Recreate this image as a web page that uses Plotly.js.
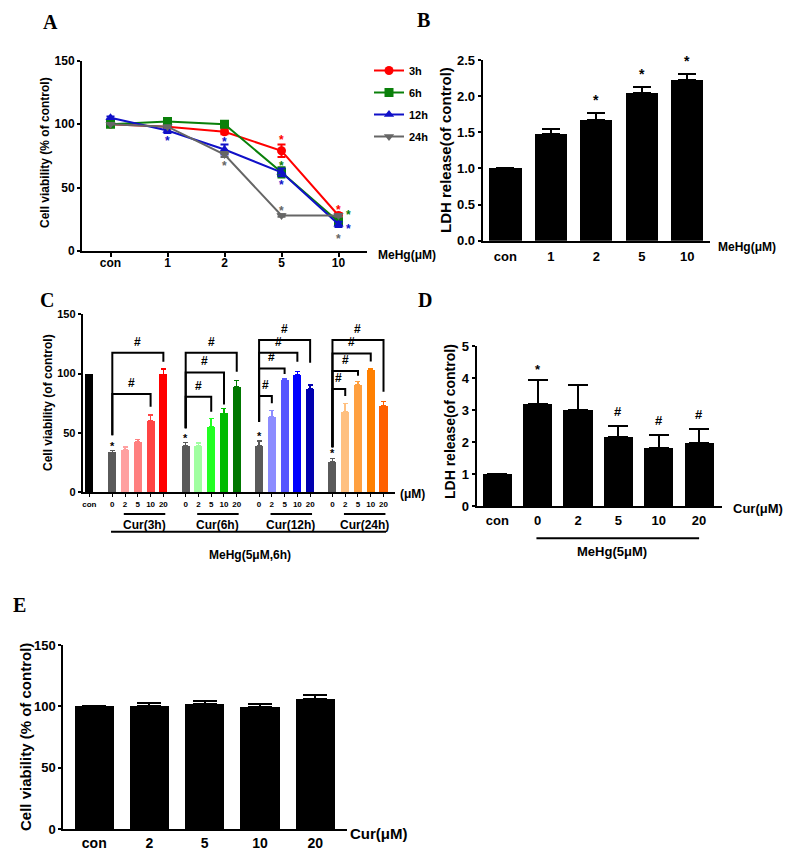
<!DOCTYPE html>
<html><head><meta charset="utf-8">
<script src="https://cdn.plot.ly/plotly-3.0.1.min.js"></script>
<style>html,body{margin:0;padding:0;background:#fff}#chart{width:800px;height:854px}</style>
</head><body><div id="chart"></div>
<script>
// ---------- Panel A: cell viability vs MeHg, 4 time points ----------
const doseA = ['con', '1', '2', '5', '10'];
const seriesA = ['3h', '6h', '12h', '24h'];
const via3h = [100, 98, 94, 79, 28];
const via6h = [100, 102, 100, 62, 23];
const via12h = [105, 95, 80, 62, 21];
const via24h = [100, 98, 76, 28, 28];
const err3h = [0, 1, 2, 5, 2];
const err6h = [0, 1, 1, 4, 2];
const err12h = [1, 2, 4, 3, 2];
const err24h = [0, 1, 2, 1, 1];
const colorsA = ['#ff0000', '#0a800a', '#1010c8', '#666666'];
const symbolsA = ['circle', 'square', 'triangle-up', 'triangle-down'];
// significance stars in A (series index, dose position, value)
const starA_series = [0, 0, 1, 1, 2, 2, 2, 2, 3, 3, 3];
const starA_x = [3, 4, 3, 4.17, 1, 2, 3, 4.18, 2, 3, 4];
const starA_y = [90, 35, 69, 31, 89, 88, 54, 20, 69, 34, 12];

// ---------- Panel B: LDH release vs MeHg ----------
const doseB = ['con', '1', '2', '5', '10'];
const ldhB = [1.0, 1.47, 1.67, 2.04, 2.22];
const ldhBErr = [0, 0.07, 0.09, 0.09, 0.08];
const starB = [false, false, true, true, true];

// ---------- Panel C: viability, MeHg 5uM 6h + Cur ----------
const curDoses = ['0', '2', '5', '10', '20'];
const curGroups = ['Cur(3h)', 'Cur(6h)', 'Cur(12h)', 'Cur(24h)'];
const conC = 100;
const valC3h = [33.7, 35.6, 42.4, 60.3, 99.4];
const valC6h = [39, 39, 55.3, 66.5, 89];
const valC12h = [39, 63.5, 94.6, 98.8, 87];
const valC24h = [25.8, 67.9, 90.4, 103, 72.7];
const errC3h = [1.5, 2.5, 2.1, 4.7, 4.3];
const errC6h = [2.8, 2.5, 6.7, 4.3, 5];
const errC12h = [4.4, 5.6, 1.4, 2.8, 3.4];
const errC24h = [2.8, 7, 2.8, 1.4, 3.7];
const colC3h = ['#5a5a5a', '#ffa0a0', '#ff7f7f', '#ff4444', '#ff0000'];
const colC6h = ['#5a5a5a', '#a0ffa0', '#22ff22', '#00bb00', '#007700'];
const colC12h = ['#5a5a5a', '#8c8cff', '#5555ff', '#0000ff', '#0000b0'];
const colC24h = ['#5a5a5a', '#ffc080', '#ffa040', '#ff8000', '#ff6000'];
// brackets: per group, left leg bottom; each bracket [target dose index, top value, right leg bottom]
const bracketLeftC = [48, 54, 59.5, 38];
const bracketsC3h = [[4, 117.6, 110], [3, 82.8, 72]];
const bracketsC6h = [[4, 117.6, 101.6], [3, 101, 74], [2, 80.6, 67.9]];
const bracketsC12h = [[4, 128.3, 109.2], [3, 117.6, 110], [2, 104.4, 99.7], [1, 81.1, 75]];
const bracketsC24h = [[4, 128.3, 84.8], [3, 117, 110.2], [2, 102.2, 98.2], [1, 87, 81.1]];

// ---------- Panel D: LDH release, MeHg 5uM + Cur ----------
const doseD = ['con', '0', '2', '5', '10', '20'];
const ldhD = [1.0, 3.18, 3.01, 2.16, 1.82, 1.96];
const ldhDErr = [0, 0.75, 0.77, 0.33, 0.39, 0.44];
const markD = ['', '*', '', '#', '#', '#'];

// ---------- Panel E: viability, Cur alone ----------
const doseE = ['con', '2', '5', '10', '20'];
const viaE = [100, 100.6, 101.5, 99.5, 106];
const viaEErr = [0, 2.5, 2.7, 2.8, 3.6];

// ================= drawing =================
const W = 800, H = 854;
const px = x => x / W;
const py = y => 1 - y / H;
const FONT = 'Liberation Sans, Arial, sans-serif';
const bold = (size, color) => ({family: FONT, size: size, color: color || '#000', weight: 'bold'});

const traces = [];
const annotations = [];
const shapes = [];

// Panel A
const viaA = [via3h, via6h, via12h, via24h];
const errA = [err3h, err6h, err12h, err24h];
seriesA.forEach((s, k) => {
  traces.push({
    type: 'scatter', mode: 'lines+markers', name: s, legendgroup: s,
    x: doseA, y: viaA[k], xaxis: 'x', yaxis: 'y',
    line: {color: colorsA[k], width: 2},
    marker: {color: colorsA[k], size: 9, symbol: symbolsA[k]},
    error_y: {type: 'data', array: errA[k], color: colorsA[k], thickness: 2, width: 4}
  });
});
starA_x.forEach((x, i) => {
  annotations.push({xref: 'x', yref: 'y', x: x, y: starA_y[i], text: '*', showarrow: false,
    yanchor: 'middle', yshift: -3, font: bold(12, colorsA[starA_series[i]])});
});

// Panel B
traces.push({
  type: 'bar', x: doseB, y: ldhB, xaxis: 'x2', yaxis: 'y2', width: 0.71, showlegend: false,
  marker: {color: '#000', line: {color: '#000', width: 0}},
  error_y: {type: 'data', symmetric: false, array: ldhBErr, arrayminus: ldhBErr.map(() => 0), color: '#000', thickness: 2, width: 9}
});
doseB.forEach((d, i) => {
  if (starB[i]) annotations.push({xref: 'x2', yref: 'y2', x: i, y: ldhB[i] + ldhBErr[i], text: '*', showarrow: false,
    yanchor: 'bottom', yshift: 3, font: bold(14)});
});

// Panel C
const posC = (g, i) => 1.8 + g * 5.75 + i;
const valC = [valC3h, valC6h, valC12h, valC24h];
const errC = [errC3h, errC6h, errC12h, errC24h];
const colC = [colC3h, colC6h, colC12h, colC24h];
const brC = [bracketsC3h, bracketsC6h, bracketsC12h, bracketsC24h];
const tickvalsC = [0], ticktextC = ['con'];
traces.push({type: 'bar', x: [0], y: [conC], xaxis: 'x3', yaxis: 'y3', width: 0.63, showlegend: false,
  marker: {color: '#000'}});
curGroups.forEach((grp, g) => {
  curDoses.forEach((d, i) => {
    tickvalsC.push(posC(g, i)); ticktextC.push(d);
    traces.push({type: 'bar', x: [posC(g, i)], y: [valC[g][i]], xaxis: 'x3', yaxis: 'y3', width: 0.63, showlegend: false,
      marker: {color: colC[g][i]},
      error_y: {type: 'data', symmetric: false, array: [errC[g][i]], arrayminus: [0], color: colC[g][i], thickness: 1.5, width: 2.5}});
  });
  // star above MeHg-only bar
  annotations.push({xref: 'x3', yref: 'y3', x: posC(g, 0), y: valC[g][0] + errC[g][0], text: '*', showarrow: false,
    yanchor: 'bottom', yshift: -3, font: bold(11)});
  // brackets
  brC[g].forEach(b => {
    const x0 = posC(g, 0), x1 = posC(g, b[0]);
    shapes.push({type: 'path', xref: 'x3', yref: 'y3',
      path: `M ${x0},${bracketLeftC[g]} L ${x0},${b[1]} L ${x1},${b[1]} L ${x1},${b[2]}`,
      line: {color: '#000', width: 2}});
    annotations.push({xref: 'x3', yref: 'y3', x: (x0 + x1) / 2, y: b[1], text: '#', showarrow: false,
      yanchor: 'bottom', yshift: 2, font: bold(12)});
  });
  // Cur group underline + label
  shapes.push({type: 'line', xref: 'x3', yref: 'paper', x0: posC(g, 1) - 0.1, x1: posC(g, 4) + 0.15,
    y0: py(514), y1: py(514), line: {color: '#000', width: 2}});
  annotations.push({xref: 'x3', yref: 'paper', x: posC(g, 2.5), y: py(525), text: grp, showarrow: false,
    yanchor: 'middle', font: bold(12)});
});
shapes.push({type: 'line', xref: 'x3', yref: 'paper', x0: posC(0, 0) - 0.1, x1: posC(3, 4) + 0.2,
  y0: py(531.7), y1: py(531.7), line: {color: '#000', width: 2}});
annotations.push({xref: 'x3', yref: 'paper', x: (posC(0, 0) + posC(3, 4)) / 2 + 0.2, y: py(555), text: 'MeHg(5μM,6h)',
  showarrow: false, yanchor: 'middle', font: bold(12)});
annotations.push({xref: 'paper', yref: 'paper', x: px(398), y: py(494), text: '(μM)', showarrow: false,
  xanchor: 'left', yanchor: 'middle', font: bold(12)});

// Panel D
traces.push({
  type: 'bar', x: doseD, y: ldhD, xaxis: 'x4', yaxis: 'y4', width: 0.72, showlegend: false,
  marker: {color: '#000'},
  error_y: {type: 'data', symmetric: false, array: ldhDErr, arrayminus: ldhDErr.map(() => 0), color: '#000', thickness: 2, width: 10}
});
markD.forEach((m, i) => {
  if (m) annotations.push({xref: 'x4', yref: 'y4', x: i, y: ldhD[i] + ldhDErr[i], text: m, showarrow: false,
    yanchor: 'bottom', yshift: m === '#' ? 5 : 1, font: bold(13)});
});
shapes.push({type: 'line', xref: 'x4', yref: 'paper', x0: 0.97, x1: 5.0, y0: py(538.3), y1: py(538.3),
  line: {color: '#000', width: 2}});
annotations.push({xref: 'x4', yref: 'paper', x: 2.85, y: py(551.7), text: 'MeHg(5μM)', showarrow: false,
  yanchor: 'middle', font: bold(13)});

// Panel E
traces.push({
  type: 'bar', x: doseE, y: viaE, xaxis: 'x5', yaxis: 'y5', width: 0.71, showlegend: false,
  marker: {color: '#000'},
  error_y: {type: 'data', symmetric: false, array: viaEErr, arrayminus: viaEErr.map(() => 0), color: '#000', thickness: 2, width: 12}
});

// axis labels / panel letters
const txt = (x, y, t, f, extra) => annotations.push(Object.assign({xref: 'paper', yref: 'paper', x: px(x), y: py(y),
  text: t, showarrow: false, xanchor: 'center', yanchor: 'middle', font: f}, extra || {}));
const letterFont = {family: 'Liberation Serif, Times New Roman, serif', size: 20, color: '#000', weight: 'bold'};
txt(50, 22, 'A', letterFont);
txt(423, 20, 'B', letterFont);
txt(47, 300, 'C', letterFont);
txt(425, 300, 'D', letterFont);
txt(19, 605, 'E', letterFont);
txt(45, 153, 'Cell viability (% of control)', bold(12), {textangle: -90});
txt(446, 150, 'LDH release(of control)', bold(15), {textangle: -90});
txt(48, 403, 'Cell viability (of control)', bold(12), {textangle: -90});
txt(450, 422, 'LDH release(of control)', bold(14), {textangle: -90});
txt(25, 737, 'Cell viability (% of control)', bold(15), {textangle: -90});
txt(407, 255, 'MeHg(μM)', bold(12));
txt(747, 247, 'MeHg(μM)', bold(12));
txt(758, 508, 'Cur(μM)', bold(13));
txt(379, 833, 'Cur(μM)', bold(15));

const axBase = {showline: true, linecolor: '#000', linewidth: 2, ticks: 'outside', tickcolor: '#000',
  tickwidth: 2, ticklen: 3, showgrid: false, zeroline: false, fixedrange: true};
const ax = (o) => Object.assign({}, axBase, o);

const layout = {
  width: W, height: H, margin: {l: 0, r: 0, t: 0, b: 0},
  paper_bgcolor: '#fff', plot_bgcolor: 'rgba(0,0,0,0)',
  showlegend: true, bargap: 0,
  legend: {x: px(369), y: py(56), xanchor: 'left', yanchor: 'top', font: bold(11), bgcolor: 'rgba(0,0,0,0)',
    tracegroupgap: 3, itemwidth: 30},
  xaxis: ax({domain: [px(82), px(367)], anchor: 'y', type: 'category', range: [-0.5, 4.5], tickfont: bold(12), ticklen: 4, ticklabelstandoff: -4}),
  yaxis: ax({domain: [py(251), py(60.7)], anchor: 'x', range: [0, 150], tickvals: [0, 50, 100, 150], tickfont: bold(12)}),
  xaxis2: ax({domain: [px(482.7), px(710)], anchor: 'y2', type: 'category', range: [-0.5, 4.5], tickfont: bold(13), ticks: '', ticklabelstandoff: 3}),
  yaxis2: ax({domain: [py(240.7), py(60)], anchor: 'x2', range: [0, 2.5], tickvals: [0, 0.5, 1, 1.5, 2, 2.5], tickformat: '.1f', tickfont: bold(13)}),
  xaxis3: ax({domain: [px(82.7), px(395)], anchor: 'y3', range: [-0.52, 23.95], tickvals: tickvalsC, ticktext: ticktextC, tickfont: bold(8), ticklen: 3, tickwidth: 1}),
  yaxis3: ax({domain: [py(492.3), py(314.3)], anchor: 'x3', range: [0, 150], tickvals: [0, 50, 100, 150], tickfont: bold(11)}),
  xaxis4: ax({domain: [px(476.7), px(721.7)], anchor: 'y4', type: 'category', range: [-0.51, 5.56], tickfont: bold(13), ticks: '', ticklabelstandoff: 1}),
  yaxis4: ax({domain: [py(506), py(346)], anchor: 'x4', range: [0, 5], tickvals: [0, 1, 2, 3, 4, 5], tickfont: bold(13)}),
  xaxis5: ax({domain: [px(63.3), px(346.7)], anchor: 'y5', type: 'category', range: [-0.56, 4.57], tickfont: bold(14), ticks: '', ticklabelstandoff: 0}),
  yaxis5: ax({domain: [py(829), py(645)], anchor: 'x5', range: [0, 150], tickvals: [0, 50, 100, 150], tickfont: bold(13)}),
  annotations: annotations,
  shapes: shapes
};

Plotly.newPlot('chart', traces, layout, {staticPlot: true, displayModeBar: false});
</script>
</body></html>
